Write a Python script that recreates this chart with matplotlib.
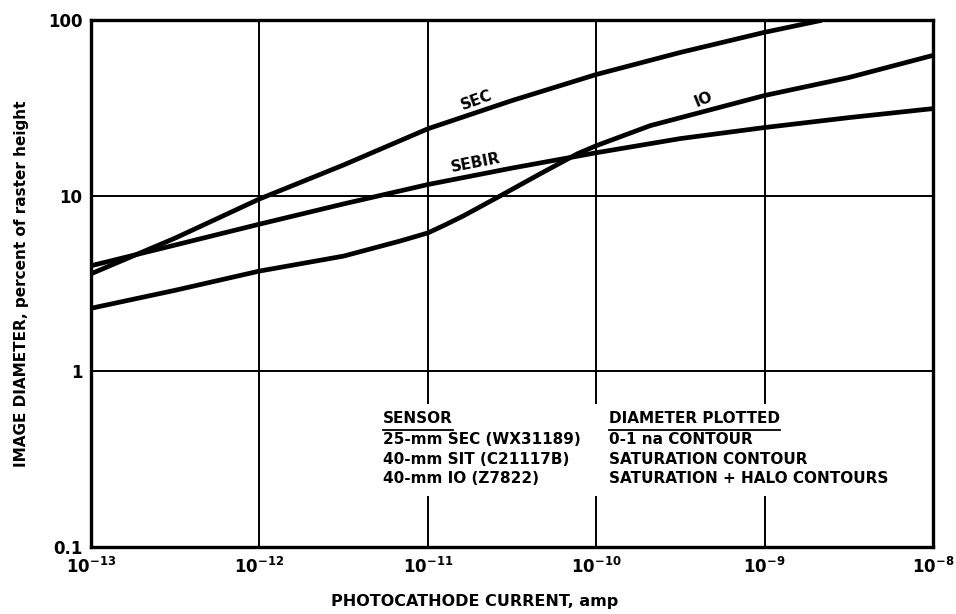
import matplotlib
matplotlib.use("Agg")
import matplotlib.pyplot as plt
from matplotlib.patches import Rectangle

plt.rcParams['font.family'] = ['DejaVu Sans']
plt.rcParams['mathtext.default'] = 'bf'

# photocathode current (amp), image diameter (% of raster height)
sec_x = [1e-13, 10**-12.5, 1e-12, 10**-11.5, 1e-11, 10**-10.5, 1e-10, 10**-9.5, 1e-9, 10**-8.66]
sec_y = [3.6, 5.75, 9.6, 15.0, 24.1, 34.9, 49.1, 65.6, 85.4, 100]

sebir_x = [1e-13, 10**-12.5, 1e-12, 10**-11.5, 1e-11, 10**-10.5, 1e-10, 10**-9.5, 1e-9, 10**-8.5, 1e-8]
sebir_y = [4.0, 5.25, 6.9, 9.0, 11.6, 14.4, 17.6, 21.2, 24.5, 27.9, 31.4]

io_x = [1e-13, 10**-12.5, 1e-12, 10**-11.5, 10**-11.165, 1e-11, 10**-10.898, 10**-10.79, 10**-10.57,
        10**-10.33, 10**-10.11, 1e-10, 10**-9.68, 1e-9, 10**-8.5, 1e-8]
io_y = [2.29, 2.9, 3.73, 4.54, 5.53, 6.15, 6.83, 7.68, 10.0,
        13.4, 17.4, 19.3, 25.1, 37.3, 47.2, 63.1]

xticks = [1e-13, 1e-12, 1e-11, 1e-10, 1e-9, 1e-8]
xtick_labels = ['10$^{-13}$', '10$^{-12}$', '10$^{-11}$', '10$^{-10}$', '10$^{-9}$', '10$^{-8}$']
yticks = [0.1, 1, 10, 100]
ytick_labels = ['0.1', '1', '10', '100']

sensor_rows = ['25-mm SEC (WX31189)', '40-mm SIT (C21117B)', '40-mm IO (Z7822)']
plotted_rows = ['0-1 na CONTOUR', 'SATURATION CONTOUR', 'SATURATION + HALO CONTOURS']

fig = plt.figure(figsize=(9.56, 6.14), dpi=100)
ax = fig.add_axes([0.0952, 0.109, 0.8808, 0.858])

ax.set_xscale('log')
ax.set_yscale('log')
ax.set_xlim(1e-13, 1e-8)
ax.set_ylim(0.1, 100)

lw = 3.4
for xs, ys in ((sec_x, sec_y), (sebir_x, sebir_y), (io_x, io_y)):
    ax.plot(xs, ys, color='k', lw=lw, solid_capstyle='butt', solid_joinstyle='round', zorder=4)

ax.set_xticks(xticks)
ax.set_xticklabels(xtick_labels, fontsize=12, fontweight='bold')
ax.set_yticks(yticks)
ax.set_yticklabels(ytick_labels, fontsize=12, fontweight='bold')
ax.minorticks_off()
ax.tick_params(axis='x', length=0, pad=7)
ax.tick_params(axis='y', length=0, pad=6)
ax.grid(True, color='k', lw=1.4)
ax.set_axisbelow(True)
for s in ax.spines.values():
    s.set_linewidth(2.4)

ax.set_xlabel('PHOTOCATHODE CURRENT, amp', fontsize=11.5, fontweight='bold', labelpad=12)
ax.xaxis.label.set_x(0.456)
ax.set_ylabel('IMAGE DIAMETER, percent of raster height', fontsize=11, fontweight='bold', labelpad=14)

# curve labels
ax.text(0.458, 0.848, 'SEC', transform=ax.transAxes, rotation=20, fontsize=11,
        fontweight='bold', ha='center', va='center')
ax.text(0.457, 0.73, 'SEBIR', transform=ax.transAxes, rotation=11, fontsize=11,
        fontweight='bold', ha='center', va='center')
ax.text(0.727, 0.85, 'IO', transform=ax.transAxes, rotation=22, fontsize=11,
        fontweight='bold', ha='center', va='center')

# key table, blanks the grid behind it
ax.add_patch(Rectangle((0.341, 0.097), 0.501, 0.175, transform=ax.transAxes,
                       facecolor='white', edgecolor='none', zorder=2))

t1 = ax.text(0.347, 0.244, 'SENSOR', transform=ax.transAxes, fontsize=11,
             fontweight='bold', va='center', zorder=5)
t2 = ax.text(0.615, 0.244, 'DIAMETER PLOTTED', transform=ax.transAxes, fontsize=11,
             fontweight='bold', va='center', zorder=5)
row_y = [0.204, 0.166, 0.130]
for yy, a, b in zip(row_y, sensor_rows, plotted_rows):
    ax.text(0.347, yy, a, transform=ax.transAxes, fontsize=11, fontweight='bold', va='center', zorder=5)
    ax.text(0.615, yy, b, transform=ax.transAxes, fontsize=11, fontweight='bold', va='center', zorder=5)

fig.canvas.draw()
inv = ax.transAxes.inverted()
for t in (t1, t2):
    bb = t.get_window_extent()
    (x0, y0), (x1, y1) = inv.transform([(bb.x0, bb.y0), (bb.x1, bb.y1)])
    ax.plot([x0, x1], [y0 - 0.008, y0 - 0.008], color='k', lw=1.3,
            transform=ax.transAxes, zorder=5, clip_on=False)

fig.savefig('out.png', dpi=100)
